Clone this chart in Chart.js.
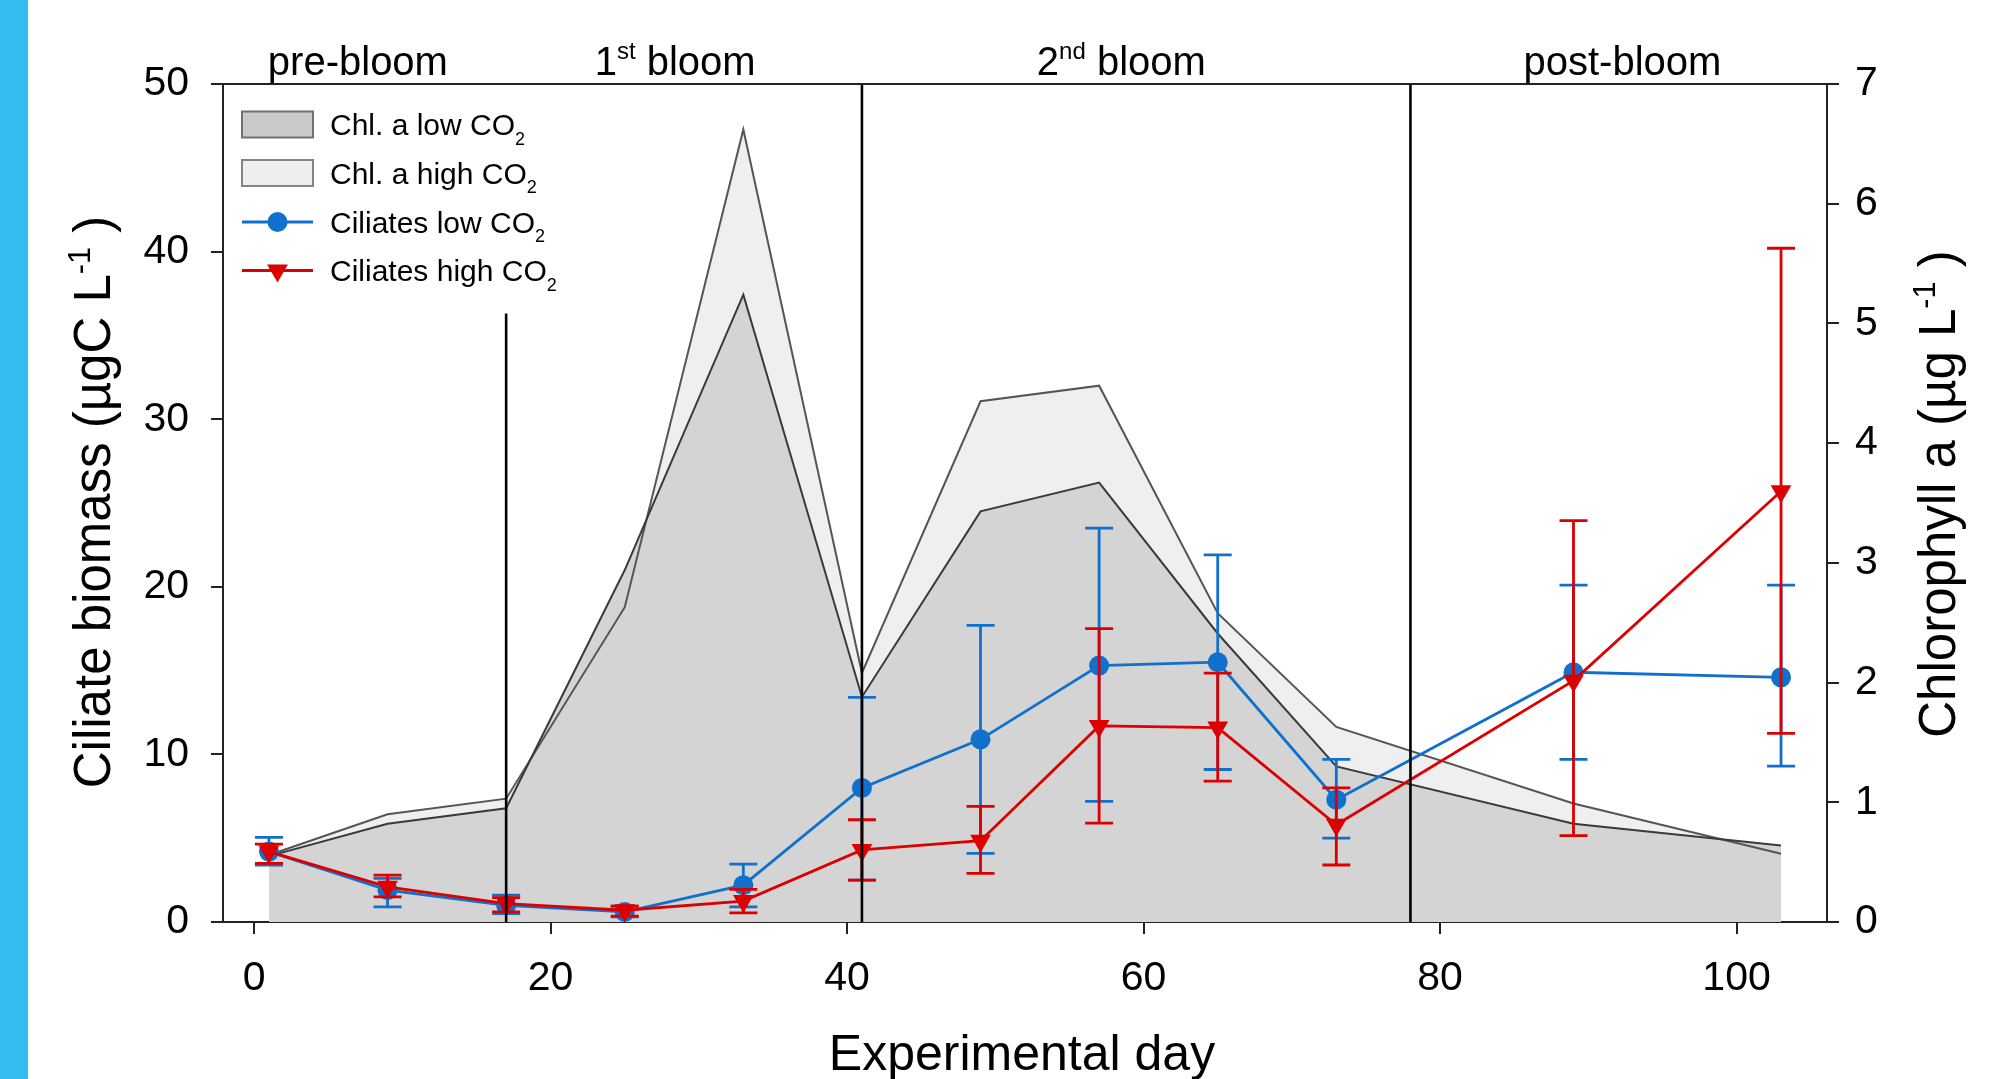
<!DOCTYPE html>
<html>
<head>
<meta charset="utf-8">
<script src="https://cdn.jsdelivr.net/npm/chart.js@4.4.1/dist/chart.umd.min.js"></script>
<style>
html,body{margin:0;padding:0;background:#fff;overflow:hidden;}
#wrap{position:relative;width:2008px;height:1079px;background:#fff;}
#strip{position:absolute;left:0;top:0;width:28px;height:1079px;background:#33bdf1;}
canvas{position:absolute;left:0;top:0;}
</style>
</head>
<body>
<div id="wrap"><canvas id="c" width="2008" height="1079"></canvas><div id="strip"></div></div>
<script>
// ---- data ----
const days = [1, 9, 17, 25, 33, 41, 49, 57, 65, 73, 89, 103];
const chlLow  = [0.55, 0.82, 0.95, 2.94, 5.24, 1.88, 3.43, 3.67, 2.41, 1.30, 0.82, 0.64];
const chlHigh = [0.56, 0.90, 1.03, 2.63, 6.62, 2.08, 4.35, 4.48, 2.58, 1.63, 0.99, 0.57];
const cilLow      = [4.2, 1.9, 1.0, 0.6, 2.2, 8.0, 10.9, 15.3, 15.5, 7.3, 14.9, 14.6];
const cilLowErrLo = [3.4, 0.9, 0.5, 0.3, 0.9, 2.5, 4.1, 7.2, 9.1, 5.0, 9.7, 9.3];
const cilLowErrHi = [5.05, 2.6, 1.6, 0.95, 3.45, 13.4, 17.7, 23.5, 21.9, 9.7, 20.1, 20.1];
const cilHigh      = [4.2, 2.1, 1.1, 0.7, 1.25, 4.3, 4.85, 11.7, 11.6, 5.8, 14.4, 25.7];
const cilHighErrLo = [3.5, 1.5, 0.6, 0.35, 0.55, 2.5, 2.9, 5.9, 8.4, 3.4, 5.15, 11.25];
const cilHighErrHi = [4.65, 2.8, 1.45, 0.95, 1.95, 6.1, 6.9, 17.5, 14.85, 8.0, 23.95, 40.2];
const xTickValues = [0, 20, 40, 60, 80, 100];
const phaseBounds = [17, 41, 78];
const phaseLineTop = [36.3, 50, 50];
const phaseNames = [["pre-bloom", ""], ["1", "st", " bloom"], ["2", "nd", " bloom"], ["post-bloom", ""]];
const phaseLabelDay = [7.0, 28.4, 58.5, 92.3];

// ---- styles ----
const FAM = "'Liberation Sans', Arial, sans-serif";
const BLUE = '#1070cc';
const RED = '#dc0000';
const AX = '#222';

function pts(ys) { return days.map((d, i) => ({x: d, y: ys[i]})); }

function drawRich(ctx, parts, x, y, size, align) {
  const seg = parts.map(([t, k]) => {
    const s = k === 'n' ? size : size * 0.6;
    ctx.font = s + 'px ' + FAM;
    return {t, k, s, w: ctx.measureText(t).width};
  });
  const total = seg.reduce((a, b) => a + b.w, 0);
  let cx = align === 'center' ? x - total / 2 : (align === 'right' ? x - total : x);
  ctx.textAlign = 'left';
  ctx.textBaseline = 'alphabetic';
  for (const s of seg) {
    ctx.font = s.s + 'px ' + FAM;
    const dy = s.k === 'sup' ? -size * 0.40 : (s.k === 'sub' ? size * 0.33 : 0);
    ctx.fillText(s.t, cx, y + dy);
    cx += s.w;
  }
}

function drawErr(chart, ds) {
  const ctx = chart.ctx;
  const xs = chart.scales.x, ys = chart.scales.y;
  ctx.save();
  ctx.strokeStyle = ds.borderColor;
  ctx.lineWidth = 2.8;
  const hw = 14;
  for (let i = 0; i < days.length; i++) {
    const px = xs.getPixelForValue(days[i]);
    const p1 = ys.getPixelForValue(ds.errLo[i]);
    const p2 = ys.getPixelForValue(ds.errHi[i]);
    ctx.beginPath();
    ctx.moveTo(px, p1); ctx.lineTo(px, p2);
    ctx.moveTo(px - hw, p1); ctx.lineTo(px + hw, p1);
    ctx.moveTo(px - hw, p2); ctx.lineTo(px + hw, p2);
    ctx.stroke();
  }
  ctx.restore();
}

const custom = {
  id: 'custom',
  beforeDatasetDraw(chart, args) {
    const ds = chart.data.datasets[args.index];
    if (ds.errLo) drawErr(chart, ds);
  },
  afterDatasetsDraw(chart) {
    const ctx = chart.ctx, a = chart.chartArea;
    const xs = chart.scales.x, ys = chart.scales.y;
    ctx.save();
    ctx.strokeStyle = '#000';
    ctx.lineWidth = 2.6;
    phaseBounds.forEach((d, i) => {
      const px = xs.getPixelForValue(d);
      ctx.beginPath();
      ctx.moveTo(px, ys.getPixelForValue(phaseLineTop[i]));
      ctx.lineTo(px, a.bottom);
      ctx.stroke();
    });
    ctx.strokeStyle = AX;
    ctx.lineWidth = 2;
    ctx.beginPath();
    ctx.moveTo(a.left - 1, a.top);
    ctx.lineTo(a.right + 1, a.top);
    ctx.stroke();
    ctx.restore();
  },
  afterDraw(chart) {
    const ctx = chart.ctx, a = chart.chartArea;
    const xs = chart.scales.x;
    ctx.save();
    ctx.fillStyle = '#000';
    // phase labels
    phaseNames.forEach((n, i) => {
      const px = xs.getPixelForValue(phaseLabelDay[i]);
      const parts = n.length === 3 ? [[n[0], 'n'], [n[1], 'sup'], [n[2], 'n']] : [[n[0], 'n']];
      drawRich(ctx, parts, px, a.top - 9, 40, 'center');
    });
    // x title
    drawRich(ctx, [['Experimental day', 'n']], (a.left + a.right) / 2 - 3, 1070, 50, 'center');
    // left y title
    ctx.save();
    ctx.translate(110, 502);
    ctx.rotate(-Math.PI / 2);
    drawRich(ctx, [['Ciliate biomass (\u00b5gC L', 'n'], ['-1', 'sup'], [' )', 'n']], 0, 0, 51, 'center');
    ctx.restore();
    // right y title
    ctx.save();
    ctx.translate(1955, 494);
    ctx.rotate(-Math.PI / 2);
    drawRich(ctx, [['Chlorophyll a (\u00b5g L', 'n'], ['-1', 'sup'], [' )', 'n']], 0, 0, 51, 'center');
    ctx.restore();
    // legend
    const lx = a.left + 19, lw = 71, tx = a.left + 107;
    const rows = [a.top + 40.5, a.top + 89, a.top + 138, a.top + 186.5];
    const labels = [['Chl. a low CO', '2'], ['Chl. a high CO', '2'], ['Ciliates low CO', '2'], ['Ciliates high CO', '2']];
    ctx.lineWidth = 2;
    ctx.fillStyle = '#c9c9c9'; ctx.strokeStyle = '#707070';
    ctx.fillRect(lx, rows[0] - 13, lw, 26); ctx.strokeRect(lx, rows[0] - 13, lw, 26);
    ctx.fillStyle = '#eeeeee'; ctx.strokeStyle = '#858585';
    ctx.fillRect(lx, rows[1] - 13, lw, 26); ctx.strokeRect(lx, rows[1] - 13, lw, 26);
    ctx.lineWidth = 2.8;
    ctx.strokeStyle = BLUE; ctx.fillStyle = BLUE;
    ctx.beginPath(); ctx.moveTo(lx, rows[2]); ctx.lineTo(lx + lw, rows[2]); ctx.stroke();
    ctx.beginPath(); ctx.arc(lx + lw / 2, rows[2], 10, 0, Math.PI * 2); ctx.fill();
    ctx.strokeStyle = RED; ctx.fillStyle = RED;
    ctx.beginPath(); ctx.moveTo(lx, rows[3]); ctx.lineTo(lx + lw, rows[3]); ctx.stroke();
    const cx = lx + lw / 2, r = 12;
    ctx.beginPath();
    ctx.moveTo(cx, rows[3] + r);
    ctx.lineTo(cx - r * 0.866, rows[3] - r / 2);
    ctx.lineTo(cx + r * 0.866, rows[3] - r / 2);
    ctx.closePath(); ctx.fill();
    ctx.fillStyle = '#000';
    labels.forEach((l, i) => {
      drawRich(ctx, [[l[0], 'n'], [l[1], 'sub']], tx, rows[i] + 10.5, 30, 'left');
    });
    ctx.restore();
  }
};

const tickFont = {size: 41, family: FAM};
const gridOpt = {drawOnChartArea: false, drawTicks: true, tickLength: 12, color: AX, lineWidth: 2};
const borderOpt = {display: true, color: AX, width: 2};

new Chart(document.getElementById('c'), {
  type: 'line',
  data: {
    datasets: [
      {label: 'Chl. a high CO2', data: pts(chlHigh), yAxisID: 'y2', fill: 'origin',
       backgroundColor: '#efefef', borderColor: '#555555', borderWidth: 2, pointRadius: 0, tension: 0, order: 4},
      {label: 'Chl. a low CO2', data: pts(chlLow), yAxisID: 'y2', fill: 'origin',
       backgroundColor: '#d4d4d4', borderColor: '#3a3a3a', borderWidth: 2, pointRadius: 0, tension: 0, order: 3},
      {label: 'Ciliates low CO2', data: pts(cilLow), yAxisID: 'y', fill: false,
       borderColor: BLUE, backgroundColor: BLUE, borderWidth: 2.8, pointStyle: 'circle', pointRadius: 10,
       pointBorderWidth: 0, tension: 0, order: 2, errLo: cilLowErrLo, errHi: cilLowErrHi},
      {label: 'Ciliates high CO2', data: pts(cilHigh), yAxisID: 'y', fill: false,
       borderColor: RED, backgroundColor: RED, borderWidth: 2.8, pointStyle: 'triangle', pointRadius: 12,
       pointRotation: 180, pointBorderWidth: 0, tension: 0, order: 1, errLo: cilHighErrLo, errHi: cilHighErrHi}
    ]
  },
  options: {
    responsive: false,
    devicePixelRatio: 1,
    animation: false,
    events: [],
    layout: {padding: {top: 84, left: 0, right: 0, bottom: 0}},
    plugins: {legend: {display: false}, tooltip: {enabled: false}, filler: {drawTime: 'beforeDatasetsDraw'}},
    scales: {
      x: {
        type: 'linear', min: -2.1, max: 106.1,
        afterBuildTicks: s => { s.ticks = xTickValues.map(v => ({value: v})); },
        afterFit: s => { s.height = 157; },
        grid: gridOpt, border: borderOpt,
        ticks: {font: tickFont, color: '#000', padding: 20, maxRotation: 0, autoSkip: false}
      },
      y: {
        position: 'left', min: 0, max: 50,
        afterFit: s => { s.width = 223; },
        grid: gridOpt, border: borderOpt,
        ticks: {stepSize: 10, font: tickFont, color: '#000', padding: 22}
      },
      y2: {
        position: 'right', min: 0, max: 7,
        afterFit: s => { s.width = 181; },
        grid: gridOpt, border: borderOpt,
        ticks: {stepSize: 1, font: tickFont, color: '#000', padding: 16}
      }
    }
  },
  plugins: [custom]
});
</script>
</body>
</html>
